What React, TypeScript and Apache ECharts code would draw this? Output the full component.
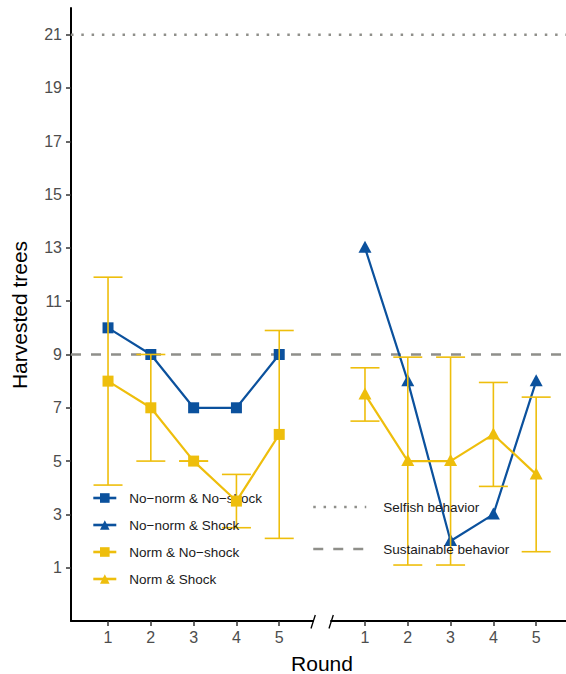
import React, { useEffect, useRef } from "react";
import * as echarts from "echarts";

const rounds = [1, 2, 3, 4, 5];
const noNormNoShock = [10, 9, 7, 7, 9];
const noNormShock = [13, 8, 2, 3, 8];
const normNoShock = [8, 7, 5, 3.5, 6];
const normNoShockErr = [3.9, 2, 0, 1, 3.9];
const normShock = [7.5, 5, 5, 6, 4.5];
const normShockErr = [1, 3.9, 3.9, 1.95, 2.9];
const yTicks = [1, 3, 5, 7, 9, 11, 13, 15, 17, 19, 21];
const selfishLevel = 21;
const sustainableLevel = 9;
const seriesNames = ["No−norm & No−shock", "No−norm & Shock", "Norm & No−shock", "Norm & Shock"];
const refNames = ["Selfish behavior", "Sustainable behavior"];
const yTitle = "Harvested trees";
const xTitle = "Round";

const BLUE = "#0B519D";
const YELLOW = "#EEBE0C";
const REF = "#8f8f8a";
const FONT = "'Liberation Sans', Arial, Helvetica, sans-serif";

function errRender(params: any, api: any) {
  const x = api.value(0);
  const lo = api.value(1);
  const hi = api.value(2);
  const pLo = api.coord([x, lo]);
  const pHi = api.coord([x, hi]);
  const hw = 14.5;
  const style = { stroke: YELLOW, lineWidth: 1.6 };
  return {
    type: "group",
    children: [
      { type: "line", shape: { x1: pLo[0], y1: pLo[1], x2: pHi[0], y2: pHi[1] }, style },
      { type: "line", shape: { x1: pLo[0] - hw, y1: pLo[1], x2: pLo[0] + hw, y2: pLo[1] }, style },
      { type: "line", shape: { x1: pHi[0] - hw, y1: pHi[1], x2: pHi[0] + hw, y2: pHi[1] }, style },
    ],
  };
}

export default function App() {
  const ref = useRef<HTMLDivElement>(null);
  useEffect(() => {
    if (!ref.current) return;
    const chart = echarts.init(ref.current, undefined, { renderer: "svg" });
    const xAxisCommon = {
      type: "value",
      axisLine: { show: true, onZero: false, lineStyle: { color: "#000", width: 2 } },
      axisTick: { show: true, customValues: rounds, length: 5, lineStyle: { color: "#333", width: 1.5 } },
      axisLabel: { customValues: rounds, color: "#4d4d4d", fontSize: 16, margin: 8, fontFamily: FONT },
      splitLine: { show: false },
    };
    const pts = (vals: number[]) => rounds.map((r, i) => [r, vals[i]]);
    const errs = (vals: number[], e: number[]) => rounds.map((r, i) => [r, vals[i] - e[i], vals[i] + e[i]]);
    const option: any = {
      animation: false,
      textStyle: { fontFamily: FONT },
      grid: [
        { left: 71, top: 8, width: 242, height: 613 },
        { left: 331, top: 8, width: 235, height: 613 },
        { left: 71, top: 8, width: 495, height: 613 },
      ],
      xAxis: [
        { ...xAxisCommon, gridIndex: 0, min: 0.135, max: 5.789 },
        { ...xAxisCommon, gridIndex: 1, min: 0.206, max: 5.697 },
        { type: "value", gridIndex: 2, min: 0, max: 1, show: false },
      ],
      yAxis: [
        {
          type: "value",
          gridIndex: 0,
          min: -1,
          max: 22,
          axisLine: { show: true, onZero: false, lineStyle: { color: "#000", width: 2 } },
          axisTick: { show: true, customValues: yTicks, length: 5, lineStyle: { color: "#333", width: 1.5 } },
          axisLabel: { customValues: yTicks, color: "#4d4d4d", fontSize: 16, margin: 9, fontFamily: FONT },
          splitLine: { show: false },
        },
        { type: "value", gridIndex: 1, min: -1, max: 22, show: false },
        { type: "value", gridIndex: 2, min: -1, max: 22, show: false },
      ],
      legend: [
        {
          data: seriesNames,
          left: 92,
          top: 491,
          padding: 0,
          orient: "vertical",
          itemWidth: 23,
          itemHeight: 12,
          itemGap: 13,
          selectedMode: false,
          lineStyle: { width: 2.6 },
          textStyle: { fontSize: 13.5, color: "#1a1a1a", padding: [0, 0, 0, 8], lineHeight: 14, fontFamily: FONT },
        },
        {
          data: refNames,
          left: 312,
          top: 500,
          padding: 0,
          orient: "vertical",
          itemWidth: 53,
          itemHeight: 14,
          itemGap: 28,
          selectedMode: false,
          lineStyle: { width: 2.5 },
          itemStyle: { opacity: 0, color: "rgba(0,0,0,0)", borderWidth: 0 },
          textStyle: { fontSize: 13.5, color: "#1a1a1a", padding: [0, 0, 0, 12], lineHeight: 14, fontFamily: FONT },
        },
      ],
      series: [
        {
          name: refNames[0],
          type: "line",
          xAxisIndex: 2,
          yAxisIndex: 2,
          data: [[0, selfishLevel], [1, selfishLevel]],
          symbol: "none",
          silent: true,
          lineStyle: { color: REF, width: 2.5, type: [2.5, 7.8] },
          itemStyle: { color: REF },
          z: 1,
        },
        {
          name: refNames[1],
          type: "line",
          xAxisIndex: 2,
          yAxisIndex: 2,
          data: [[0, sustainableLevel], [1, sustainableLevel]],
          symbol: "none",
          silent: true,
          lineStyle: { color: REF, width: 2.3, type: [10, 10] },
          itemStyle: { color: REF },
          z: 1,
        },
        {
          name: seriesNames[0],
          type: "line",
          xAxisIndex: 0,
          yAxisIndex: 0,
          data: pts(noNormNoShock),
          symbol: "rect",
          symbolSize: 11,
          lineStyle: { color: BLUE, width: 2.2 },
          itemStyle: { color: BLUE },
          z: 2,
        },
        {
          name: "errNoShock",
          type: "custom",
          xAxisIndex: 0,
          yAxisIndex: 0,
          data: errs(normNoShock, normNoShockErr),
          renderItem: errRender,
          z: 3,
        },
        {
          name: seriesNames[2],
          type: "line",
          xAxisIndex: 0,
          yAxisIndex: 0,
          data: pts(normNoShock),
          symbol: "rect",
          symbolSize: 11,
          lineStyle: { color: YELLOW, width: 2.2 },
          itemStyle: { color: YELLOW },
          z: 4,
        },
        {
          name: seriesNames[1],
          type: "line",
          xAxisIndex: 1,
          yAxisIndex: 1,
          data: pts(noNormShock),
          symbol: "triangle",
          symbolSize: [13, 12],
          symbolOffset: [0, -1],
          lineStyle: { color: BLUE, width: 2.2 },
          itemStyle: { color: BLUE },
          z: 2,
        },
        {
          name: "errShock",
          type: "custom",
          xAxisIndex: 1,
          yAxisIndex: 1,
          data: errs(normShock, normShockErr),
          renderItem: errRender,
          z: 3,
        },
        {
          name: seriesNames[3],
          type: "line",
          xAxisIndex: 1,
          yAxisIndex: 1,
          data: pts(normShock),
          symbol: "triangle",
          symbolSize: [13, 12],
          symbolOffset: [0, -1],
          lineStyle: { color: YELLOW, width: 2.2 },
          itemStyle: { color: YELLOW },
          z: 4,
        },
      ],
      graphic: [
        {
          type: "text",
          x: 19,
          y: 315,
          rotation: Math.PI / 2,
          style: { text: yTitle, font: `21px ${FONT}`, fill: "#000", textAlign: "center", textVerticalAlign: "middle" },
        },
        {
          type: "text",
          x: 322,
          y: 663,
          style: { text: xTitle, font: `21px ${FONT}`, fill: "#000", textAlign: "center", textVerticalAlign: "middle" },
        },
        { type: "line", shape: { x1: 311, y1: 628.5, x2: 315.3, y2: 615 }, style: { stroke: "#000", lineWidth: 1.3 } },
        { type: "line", shape: { x1: 329, y1: 628.5, x2: 333.3, y2: 615 }, style: { stroke: "#000", lineWidth: 1.3 } },
      ],
    };
    chart.setOption(option);
    return () => chart.dispose();
  }, []);
  return <div ref={ref} style={{ position: "fixed", left: 0, top: 0, width: 566, height: 674, background: "#fff" }} />;
}
